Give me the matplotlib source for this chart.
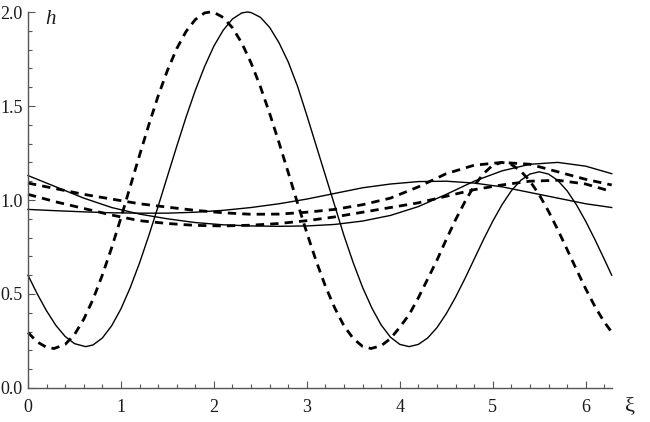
import numpy as np
import matplotlib
matplotlib.use("Agg")
import matplotlib.pyplot as plt
from matplotlib.ticker import MultipleLocator

# *** values ***
# large-amplitude waves (solid and dashed)
xi_big_solid = [0, 0.1, 0.2, 0.3, 0.4, 0.5, 0.62, 0.7, 0.8, 0.9, 1.0, 1.1, 1.2, 1.3, 1.4, 1.5,
                1.6, 1.7, 1.8, 1.9, 2.0, 2.1, 2.2, 2.3, 2.36, 2.4, 2.5, 2.6, 2.7, 2.8, 2.9, 3.0,
                3.1, 3.2, 3.3, 3.4, 3.5, 3.6, 3.7, 3.8, 3.9, 4.0, 4.1, 4.2, 4.3, 4.4, 4.5, 4.6,
                4.7, 4.8, 4.9, 5.0, 5.1, 5.2, 5.3, 5.4, 5.5, 5.6, 5.7, 5.8, 5.9, 6.0, 6.1, 6.2, 6.28]
h_big_solid = [0.60, 0.50, 0.41, 0.333, 0.274, 0.236, 0.22, 0.229, 0.266, 0.331, 0.421, 0.534, 0.665,
               0.811, 0.966, 1.126, 1.285, 1.44, 1.583, 1.71, 1.819, 1.903, 1.963, 1.995, 2.0, 1.997,
               1.972, 1.918, 1.837, 1.734, 1.605, 1.45, 1.29, 1.13, 0.97, 0.81, 0.665, 0.535, 0.425,
               0.335, 0.27, 0.232, 0.22, 0.232, 0.266, 0.321, 0.395, 0.483, 0.581, 0.685, 0.789,
               0.887, 0.975, 1.049, 1.104, 1.138, 1.15, 1.138, 1.104, 1.049, 0.975, 0.887, 0.789,
               0.685, 0.60]

xi_big_dash = [0, 0.1, 0.2, 0.28, 0.4, 0.5, 0.6, 0.7, 0.8, 0.9, 1.0, 1.1, 1.2, 1.3, 1.4, 1.5,
               1.6, 1.7, 1.8, 1.9, 1.96, 2.0, 2.1, 2.2, 2.3, 2.4, 2.5, 2.6, 2.7, 2.8, 2.9, 3.0,
               3.1, 3.2, 3.3, 3.4, 3.5, 3.6, 3.69, 3.8, 3.9, 4.0, 4.1, 4.2, 4.3, 4.4, 4.5, 4.6,
               4.7, 4.8, 4.9, 5.0, 5.1, 5.2, 5.3, 5.4, 5.5, 5.6, 5.7, 5.8, 5.9, 6.0, 6.1, 6.2, 6.28]
h_big_dash = [0.295, 0.245, 0.216, 0.21, 0.232, 0.284, 0.366, 0.472, 0.601, 0.746, 0.905, 1.072,
              1.238, 1.40, 1.553, 1.689, 1.805, 1.896, 1.96, 1.995, 2.0, 1.998, 1.971, 1.916, 1.835,
              1.729, 1.603, 1.46, 1.306, 1.146, 0.983, 0.825, 0.676, 0.541, 0.426, 0.33, 0.263,
              0.221, 0.21, 0.225, 0.263, 0.323, 0.39, 0.48, 0.58, 0.68, 0.79, 0.895, 0.99, 1.075,
              1.14, 1.185, 1.2, 1.189, 1.155, 1.101, 1.028, 0.94, 0.842, 0.737, 0.631, 0.528,
              0.433, 0.351, 0.297]

# small-amplitude waves
xi_small = [0, 0.3, 0.6, 0.9, 1.2, 1.5, 1.8, 2.1, 2.4, 2.7, 3.0, 3.3, 3.6, 3.9, 4.2, 4.5,
            4.8, 5.1, 5.4, 5.7, 6.0, 6.28]
h_solid_a = [1.13, 1.07, 1.01, 0.96, 0.925, 0.90, 0.88, 0.868, 0.862, 0.86, 0.862, 0.87, 0.888,
             0.918, 0.965, 1.03, 1.10, 1.155, 1.19, 1.20, 1.18, 1.14]
h_solid_b = [0.95, 0.943, 0.937, 0.932, 0.93, 0.93, 0.935, 0.945, 0.96, 0.98, 1.005, 1.035, 1.065,
             1.085, 1.098, 1.10, 1.09, 1.07, 1.04, 1.01, 0.98, 0.96]
h_dash_c = [1.09, 1.06, 1.03, 1.005, 0.98, 0.962, 0.945, 0.932, 0.924, 0.925, 0.935, 0.95, 0.975,
            1.01, 1.07, 1.14, 1.185, 1.20, 1.19, 1.15, 1.11, 1.08]
h_dash_d = [1.03, 0.99, 0.955, 0.92, 0.89, 0.875, 0.865, 0.862, 0.866, 0.875, 0.89, 0.91, 0.935,
            0.96, 0.985, 1.02, 1.055, 1.08, 1.10, 1.105, 1.085, 1.045]

serif = "Liberation Serif"
axis_col = "#555555"
text_col = "#1a1a1a"

fig = plt.figure(figsize=(6.5, 4.22), dpi=100)
ax = fig.add_axes([28 / 650, 34 / 422, (612 - 28) / 650, (388 - 12) / 422])

solid_kw = dict(color="black", lw=1.0, clip_on=False, solid_joinstyle="round")
dash_kw = dict(color="black", lw=2.0, clip_on=False, dashes=(3, 2.2), dash_capstyle="butt")

ax.plot(xi_small, h_solid_a, **solid_kw)
ax.plot(xi_small, h_solid_b, **solid_kw)
ax.plot(xi_small, h_dash_c, **dash_kw)
ax.plot(xi_small, h_dash_d, **dash_kw)
ax.plot(xi_big_solid, h_big_solid, **solid_kw)
ax.plot(xi_big_dash, h_big_dash, **dash_kw)

ax.set_xlim(0, 2 * np.pi)
ax.set_ylim(0, 2.0)

for side in ["top", "right"]:
    ax.spines[side].set_visible(False)
for side in ["left", "bottom"]:
    ax.spines[side].set_color(axis_col)
    ax.spines[side].set_linewidth(1.0)

ax.xaxis.set_major_locator(MultipleLocator(1))
ax.xaxis.set_minor_locator(MultipleLocator(0.2))
ax.yaxis.set_major_locator(MultipleLocator(0.5))
ax.yaxis.set_minor_locator(MultipleLocator(0.1))
ax.tick_params(which="both", direction="in", color=axis_col, width=0.8)
ax.tick_params(which="major", length=5)
ax.tick_params(which="minor", length=3)
ax.tick_params(axis="x", which="major", pad=8)
ax.tick_params(axis="y", which="major", pad=4)
ax.set_xticks([0, 1, 2, 3, 4, 5, 6])
ax.set_xticklabels(["0", "1", "2", "3", "4", "5", "6"])
ax.set_yticks([0.0, 0.5, 1.0, 1.5, 2.0])
ax.set_yticklabels(["0.0", "0.5", "1.0", "1.5", "2.0"])
for lab in ax.get_xticklabels() + ax.get_yticklabels():
    lab.set_family(serif)
    lab.set_fontsize(13)
    lab.set_color(text_col)

fig.text(50 / 650, 1 - 20 / 422, "h", family=serif, style="italic", fontsize=15,
         color=text_col, ha="center", va="center")
fig.text(630 / 650, 1 - 407 / 422, "ξ", family=serif, fontsize=16,
         color=text_col, ha="center", va="center")

fig.savefig("out.png", dpi=100)
